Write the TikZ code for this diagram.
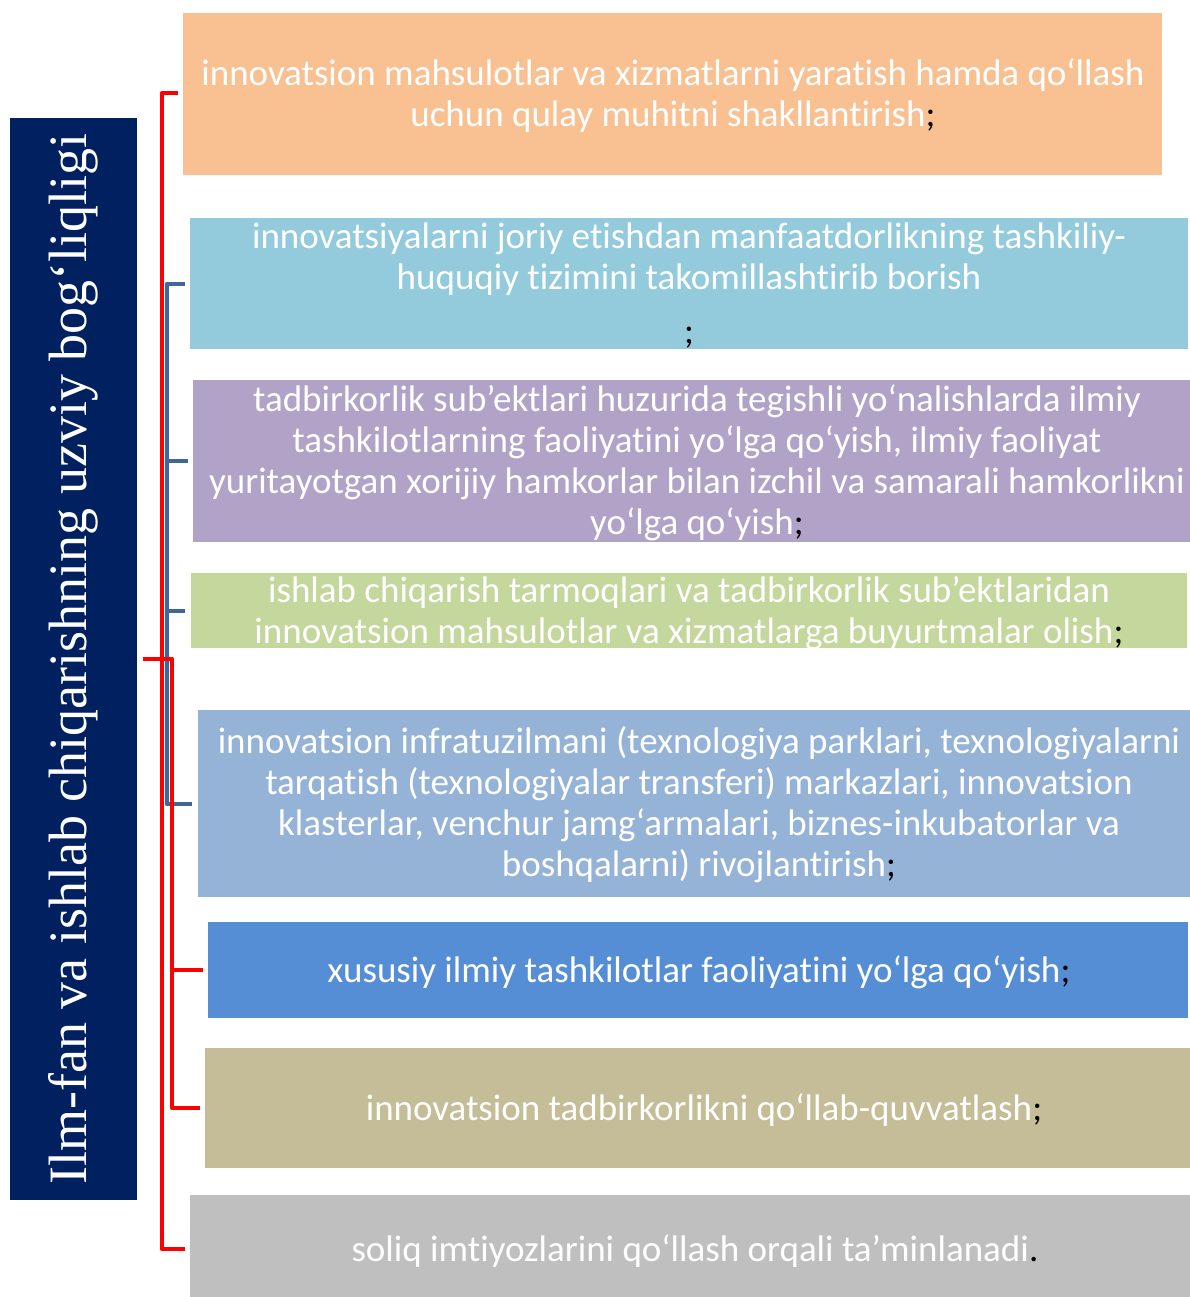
\documentclass[tikz,border=0pt]{standalone}
\usepackage{fontspec}
\setmainfont{Carlito}[Ligatures={NoCommon}]
\newfontfamily\serifttl{Liberation Serif}
\definecolor{cOrange}{HTML}{F9C192}
\definecolor{cLblue}{HTML}{93CBDC}
\definecolor{cPurple}{HTML}{B1A2C8}
\definecolor{cGreen}{HTML}{C4D79C}
\definecolor{cSteel}{HTML}{95B3D7}
\definecolor{cBlue}{HTML}{558ED5}
\definecolor{cKhaki}{HTML}{C4BD97}
\definecolor{cGray}{HTML}{BFBFBF}
\definecolor{cNavy}{HTML}{002060}
\definecolor{cBrBlue}{HTML}{41679A}
\definecolor{cRed}{HTML}{FF0000}
\begin{document}
\begin{tikzpicture}[x=1pt,y=-1pt,
  box/.style={draw=none,rectangle,anchor=north west,inner sep=0pt},
  txt/.style={text=white,align=center,inner sep=0pt,font=\fontsize{37}{41}\selectfont},
  redbr/.style={draw=cRed,line width=4.5pt,line join=round},
  bluebr/.style={draw=cBrBlue,line width=4.5pt,line join=round}]
\useasboundingbox[fill=white] (0,0) rectangle (1190,1297);
\newcommand{\semi}{\textcolor{black}{;}}
% boxes
\node[box,fill=cOrange,minimum width=979pt,minimum height=162pt] (b1) at (183,13) {};
\node[box,fill=cLblue,minimum width=998pt,minimum height=131pt] (b2) at (190,218) {};
\node[box,fill=cPurple,minimum width=997pt,minimum height=162pt] (b3) at (193,380) {};
\node[box,fill=cGreen,minimum width=996pt,minimum height=75pt] (b4) at (191,573) {};
\node[box,fill=cSteel,minimum width=992pt,minimum height=187pt] (b5) at (198,710) {};
\node[box,fill=cBlue,minimum width=980pt,minimum height=96pt] (b6) at (208,922) {};
\node[box,fill=cKhaki,minimum width=985pt,minimum height=120pt] (b7) at (205,1048) {};
\node[box,fill=cGray,minimum width=1000pt,minimum height=102pt] (b8) at (190,1195) {};
\node[box,fill=cNavy,minimum width=127pt,minimum height=1082pt] (nv) at (10,118) {};
% texts
\node[txt] (t1) at (673,96) {innovatsion mahsulotlar va xizmatlarni yaratish hamda qo‘llash\\uchun qulay muhitni shakllantirish\semi};
\node[txt] (t2) at (689,259) {innovatsiyalarni joriy etishdan manfaatdorlikning tashkiliy-\\huquqiy tizimini takomillashtirib borish};
\node[txt] (t2b) at (689,338) {\semi};
\node[txt] (t3) at (697,463) {tadbirkorlik sub’ektlari huzurida tegishli yo‘nalishlarda ilmiy\\tashkilotlarning faoliyatini yo‘lga qo‘yish, ilmiy faoliyat\\yuritayotgan xorijiy hamkorlar bilan izchil va samarali hamkorlikni\\yo‘lga qo‘yish\semi};
\node[txt] (t4) at (689,613) {ishlab chiqarish tarmoqlari va tadbirkorlik sub’ektlaridan\\innovatsion mahsulotlar va xizmatlarga buyurtmalar olish\semi};
\node[txt] (t5) at (699,805) {innovatsion infratuzilmani (texnologiya parklari, texnologiyalarni\\tarqatish (texnologiyalar transferi) markazlari, innovatsion\\klasterlar, venchur jamg‘armalari, biznes-inkubatorlar va\\boshqalarni) rivojlantirish\semi};
\node[txt] (t6) at (699,972) {xususiy ilmiy tashkilotlar faoliyatini yo‘lga qo‘yish\semi};
\node[txt] (t7) at (704,1110) {innovatsion tadbirkorlikni qo‘llab-quvvatlash\semi};
\node[txt] (t8) at (695,1251) {soliq imtiyozlarini qo‘llash orqali ta’minlanadi\textcolor{black}{.}};
\node[text=white,rotate=90,inner sep=0pt,font=\serifttl\fontsize{54}{60}\selectfont] (tt) at (nv.center) {Ilm-fan va ishlab chiqarishning uzviy bog‘liqligi};
% bracket coordinates
\coordinate (tip) at (143,659);
\coordinate (r1t) at (178,93);
\coordinate (r1b) at (185,1249);
\coordinate (bl1) at (185,284);
\coordinate (bl2) at (188,461);
\coordinate (bl3) at (185,611);
\coordinate (bl4) at (192,804);
\coordinate (r2a) at (203,970);
\coordinate (r2b) at (200,1108);
% red bracket 1
\draw[redbr] (r1t) -- (162,93) -- (162,1249) -- (r1b);
\draw[redbr] (tip) -- (162,659);
% blue bracket
\draw[bluebr] (bl1) -- (167,284) -- (167,804) -- (bl4);
\draw[bluebr] (167,461) -- (bl2);
\draw[bluebr] (167,611) -- (bl3);
% red bracket 2
\draw[redbr] (tip) -- (172,659) -- (172,1108) -- (r2b);
\draw[redbr] (172,970) -- (r2a);
\end{tikzpicture}
\end{document}
